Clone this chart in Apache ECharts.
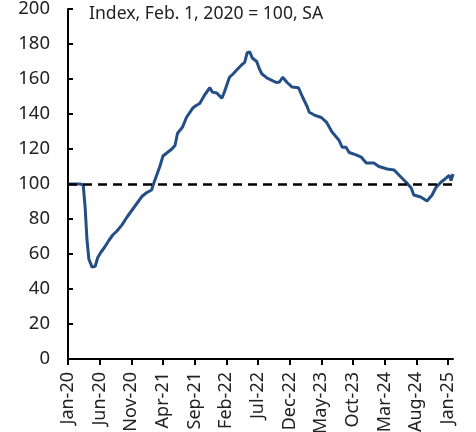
<!DOCTYPE html>
<html>
<head>
<meta charset="utf-8">
<script src="https://cdn.jsdelivr.net/npm/echarts@6/dist/echarts.min.js"></script>
<style>
  html, body { margin: 0; padding: 0; background: #fff; }
  #chart { width: 476px; height: 432px; }
</style>
</head>
<body>
<div id="chart"></div>
<script>
// months since Jan 2020 (x) and index level (y)
const monthOffsets = [
  0, 1.1, 1.9, 2.4, 2.7, 3.0, 3.3, 3.8, 4.3, 4.7, 5.2, 5.8, 6.5, 7.1, 7.7, 8.5,
  9.3, 10.1, 10.9, 11.7, 12.4, 13.2, 13.5, 14.0, 14.5, 15.0, 15.7, 16.4, 16.9,
  17.3, 18.1, 18.7, 19.7, 20.3, 20.8, 21.6, 22.4, 22.8, 23.5, 23.9, 24.3, 24.7,
  25.5, 26.1, 26.6, 27.4, 27.9, 28.3, 28.7, 29.1, 29.8, 30.2, 30.6, 31.4, 32.1,
  32.9, 33.4, 33.9, 34.6, 35.4, 36.4, 37.0, 37.8, 38.1, 38.4, 38.9, 40.0, 40.8,
  41.7, 42.8, 43.3, 43.9, 44.4, 45.5, 46.3, 47.1, 48.3, 49.1, 50.4, 51.5, 52.3,
  53.4, 54.2, 54.6, 55.7, 56.7, 57.0, 57.5, 58.1, 58.9, 59.7, 60.2, 60.5, 60.8
];
const indexValues = [
  100, 100, 100, 99.5, 87, 68, 57, 52.5, 53, 58, 61, 64, 68, 71, 73, 76.5,
  81, 85, 89, 93, 95, 96.6, 100, 105, 110, 116, 118, 120, 122,
  129, 132.6, 138, 143.4, 145, 146, 151, 155, 152.5, 152, 150.5, 149, 152.6,
  161, 163, 165, 168, 169.5, 175, 175.5, 172, 170, 166, 163, 160.6, 159.4,
  158, 158.3, 161, 158, 155.4, 155, 150, 144, 141, 142, 139.4, 138, 135.4,
  129.7, 125, 121, 121, 118, 116.6, 115.4, 112, 112, 110, 108.6, 108, 105,
  101, 97.7, 93.7, 92.6, 90.3, 89.7, 93.7, 98, 101, 103.4, 105, 102, 105.7
];
const tickLabels = ['Jan-20', 'Jun-20', 'Nov-20', 'Apr-21', 'Sep-21', 'Feb-22', 'Jul-22',
  'Dec-22', 'May-23', 'Oct-23', 'Mar-24', 'Aug-24', 'Jan-25'];
const tickMonths = [0, 5, 10, 15, 20, 25, 30, 35, 40, 45, 50, 55, 60];
const baseline = 100;

const chart = echarts.init(document.getElementById('chart'));
const font = '"Noto Sans", sans-serif';

chart.setOption({
  animation: false,
  title: {
    text: 'Index, Feb. 1, 2020 = 100, SA',
    left: 84,
    top: 0,
    textStyle: { fontFamily: font, fontSize: 17.6, fontWeight: 'normal', color: '#222' }
  },
  grid: { left: 68, right: 23, top: 9, bottom: 73, outerBoundsMode: 'none' },
  xAxis: {
    type: 'value',
    min: 0,
    max: 60.8,
    interval: 5,
    splitLine: { show: false },
    axisLine: { lineStyle: { color: '#000', width: 2 } },
    axisTick: { show: true, length: 6, customValues: tickMonths, lineStyle: { color: '#000', width: 2 } },
    axisLabel: {
      customValues: tickMonths,
      rotate: 90,
      margin: 13,
      fontFamily: font,
      fontSize: 18,
      color: '#222',
      formatter: v => tickLabels[Math.round(v / 5)] || ''
    }
  },
  yAxis: {
    type: 'value',
    min: 0,
    max: 200,
    interval: 20,
    splitLine: { show: false },
    axisLine: { show: true, lineStyle: { color: '#000', width: 2 } },
    axisTick: { show: true, inside: true, length: 5, lineStyle: { color: '#000', width: 2 } },
    axisLabel: { margin: 18, fontFamily: font, fontSize: 18.5, color: '#222' }
  },
  series: [{
    type: 'line',
    data: monthOffsets.map((m, i) => [m, indexValues[i]]),
    showSymbol: false,
    lineStyle: { color: '#234f86', width: 3 },
    z: 3,
    markLine: {
      silent: true,
      symbol: 'none',
      label: { show: false },
      lineStyle: { color: '#000', width: 2.5, type: [9, 6] },
      data: [{ yAxis: baseline }]
    }
  }]
});
</script>
</body>
</html>
